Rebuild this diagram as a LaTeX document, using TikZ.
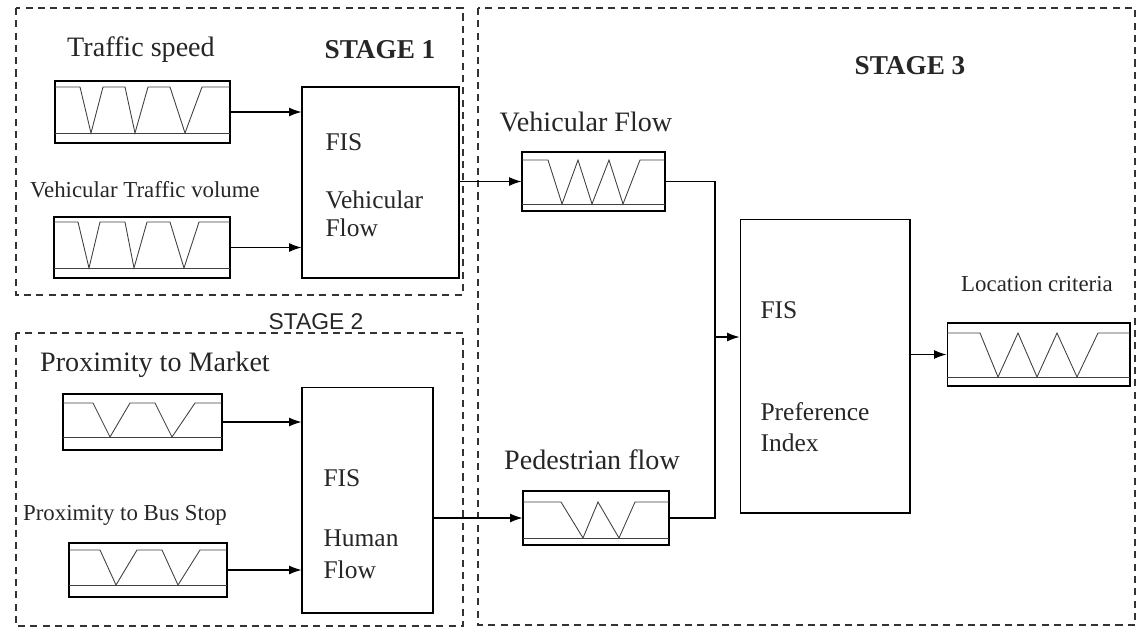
\documentclass[tikz,border=0pt]{standalone}
\usepackage{fontspec}
\setmainfont{Liberation Serif}
\newfontfamily\stagesans{Liberation Sans}
\usetikzlibrary{calc,arrows.meta}

\begin{document}
\begin{tikzpicture}[
  x=0.02cm, y=-0.02cm,
  mfbox/.style={draw, line width=0.6pt, inner sep=0pt},
  fisbox/.style={draw, line width=0.6pt, inner sep=0pt},
  wave/.style={line width=0.5pt, black!75},
  stagebox/.style={draw, black!80, line width=0.6pt, dash pattern=on 4pt off 3pt},
  lbl/.style={inner sep=0pt, black!85, font=\fontsize{16}{18}\selectfont},
  lblsmall/.style={inner sep=0pt, black!85, font=\fontsize{13}{15}\selectfont},
  fistext/.style={anchor=west, inner sep=0pt, black!85, font=\fontsize{14.5}{17}\selectfont},
  stagelbl/.style={inner sep=0pt, black!85, font=\fontsize{15.5}{18}\selectfont\bfseries},
  -{Latex[length=7pt, width=5pt]}, line width=0.6pt,
]
  \useasboundingbox (0,0) rectangle (1141,629);

  % stages
  \draw[stagebox, -] (16,8) rectangle (463,295);
  \draw[stagebox, -] (16,333) rectangle (463,626);
  \draw[stagebox, -] (478,8) rectangle (1135,625);
  \node[stagelbl] (st1) at (380,50) {STAGE 1};
  \node[inner sep=0pt, black!85, font=\stagesans\fontsize{13}{15}\selectfont] (st2) at (316,322) {STAGE 2};
  \node[stagelbl] (st3) at (910,66) {STAGE 3};

  % inputs
  \node[mfbox, minimum width=3.5cm, minimum height=1.24cm] (mf1) at (142.5,112) {};
  \node[mfbox, minimum width=3.52cm, minimum height=1.22cm] (mf2) at (142,247.5) {};
  \node[mfbox, minimum width=3.18cm, minimum height=1.12cm] (mf3) at (142.5,422) {};
  \node[mfbox, minimum width=3.16cm, minimum height=1.08cm] (mf4) at (148,570) {};
  \node[lbl] (l1) at (141,50) {Traffic speed};
  \node[lblsmall] (l2) at (145,190) {Vehicular Traffic volume};
  \node[lbl] (l3) at (155,365) {Proximity to Market};
  \node[lblsmall] (l4) at (125,515) {Proximity to Bus Stop};

  \draw[wave, -] (55,87) -- (80,87) -- (91,133) -- (103,87) -- (125,87) -- (135,133)
    -- (148,87) -- (170,87) -- (185,133) -- (202,87) -- (230,87);
  \draw[wave, -] (55,133) -- (230,133);
  \draw[wave, -] (54,222) -- (78,222) -- (89,268) -- (100,222) -- (125,222) -- (134,268)
    -- (147,222) -- (170,222) -- (184,268) -- (199,222) -- (230,222);
  \draw[wave, -] (54,268) -- (230,268);
  \draw[wave, -] (63,403) -- (93,403) -- (110,437) -- (130,403) -- (155,403) -- (172,437)
    -- (195,403) -- (222,403);
  \draw[wave, -] (63,437) -- (222,437);
  \draw[wave, -] (69,550) -- (100,550) -- (116,585) -- (137,550) -- (162,550) -- (178,585)
    -- (200,550) -- (227,550);
  \draw[wave, -] (69,585) -- (227,585);

  % fuzzy inference systems
  \node[fisbox, minimum width=3.14cm, minimum height=3.82cm] (fis1) at (380.5,182.5) {};
  \node[fisbox, minimum width=2.62cm, minimum height=4.52cm] (fis2) at (367.5,500) {};
  \node[fisbox, minimum width=3.4cm, minimum height=5.88cm] (fis3) at (825,366) {};
  \node[fistext] (f1a) at (325,142) {FIS};
  \node[fistext] (f1b) at (325,200) {Vehicular};
  \node[fistext] (f1c) at (325,228) {Flow};
  \node[fistext] (f2a) at (323,478) {FIS};
  \node[fistext] (f2b) at (323,538) {Human};
  \node[fistext] (f2c) at (323,570) {Flow};
  \node[fistext] (f3a) at (760,310) {FIS};
  \node[fistext] (f3b) at (760,412) {Preference};
  \node[fistext] (f3c) at (760,443) {Index};

  % outputs
  \node[mfbox, minimum width=2.86cm, minimum height=1.18cm] (mf5) at (593.5,181.5) {};
  \node[mfbox, minimum width=2.92cm, minimum height=1.08cm] (mf6) at (596,518) {};
  \node[mfbox, minimum width=3.66cm, minimum height=1.26cm] (mf7) at (1038.5,354.5) {};
  \node[lbl] (l5) at (586,122) {Vehicular Flow};
  \node[lbl] (l6) at (592,460) {Pedestrian flow};
  \node[lblsmall] (l7) at (1037,284) {Location criteria};

  \draw[wave, -] (522,160) -- (548,160) -- (562,204) -- (578,160) -- (592,204) -- (609,160)
    -- (623,204) -- (640,160) -- (665,160);
  \draw[wave, -] (522,204) -- (665,204);
  \draw[wave, -] (523,502) -- (561,502) -- (583,538) -- (598,502) -- (619,538) -- (635,502)
    -- (669,502);
  \draw[wave, -] (523,538) -- (669,538);
  \draw[wave, -] (947,333) -- (980,333) -- (998,377) -- (1018,333) -- (1037,377) -- (1057,333)
    -- (1077,377) -- (1098,333) -- (1130,333);
  \draw[wave, -] (947,377) -- (1130,377);

  % connectors
  \draw (mf1.east) -- (mf1.east -| fis1.west);
  \draw (mf2.east) -- (mf2.east -| fis1.west);
  \draw (mf3.east) -- (mf3.east -| fis2.west);
  \draw (mf4.east) -- (mf4.east -| fis2.west);
  \draw (fis1.east |- mf5.west) -- (mf5.west);
  \draw (fis2.east |- mf6.west) -- (mf6.west);
  \coordinate (junc) at (715,337);
  \draw[-] (mf5.east) -| (junc);
  \draw[-] (mf6.east) -| (junc);
  \draw (junc) -- (junc -| fis3.west);
  \draw (fis3.east |- mf7.west) -- (mf7.west);
\end{tikzpicture}
\end{document}
